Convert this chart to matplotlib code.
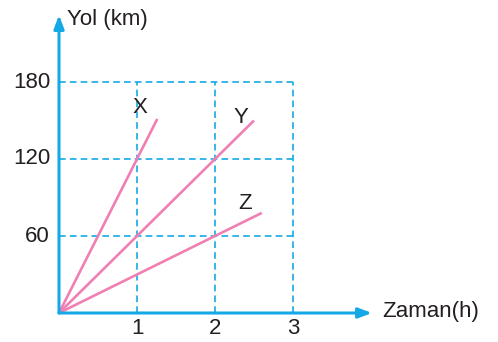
import matplotlib
matplotlib.use("Agg")
import matplotlib.pyplot as plt

# Data
series_names = ["X", "Y", "Z"]
speeds = [120, 60, 30]          # km/h
end_times = [1.26, 2.5, 2.6]    # h
x_ticks = [1, 2, 3]
y_ticks = [60, 120, 180]
x_label = "Zaman(h)"
y_label = "Yol (km)"

blue = "#14a9e6"
pink = "#f07fb3"
txt = "#231f20"

plt.rcParams['font.family'] = ['Liberation Sans', 'DejaVu Sans']
FS = 16

W, H = 498, 342
fig = plt.figure(figsize=(W / 100, H / 100), dpi=100)
ox, oy = 59, 313
tip_x, tip_y = 372, 15
ax = fig.add_axes([ox / W, (H - oy) / H, (tip_x - ox) / W, (oy - tip_y) / H])
xmax = (tip_x - ox) / 78.0
ymax = (oy - tip_y) / 77.0 * 60
ax.set_xlim(0, xmax)
ax.set_ylim(0, ymax)
ax.axis("off")

# Grid (dashed) boxed up to x=3, y=180
for xv in x_ticks:
    ax.plot([xv, xv], [0, max(y_ticks)], color=blue, lw=1.2, ls=(0, (4, 2.5)), zorder=1)
for yv in y_ticks:
    ax.plot([0, max(x_ticks)], [yv, yv], color=blue, lw=1.2, ls=(0, (4, 2.5)), zorder=1)

# Lines
for name, v, t in zip(series_names, speeds, end_times):
    ax.plot([0, t], [0, v * t], color=pink, lw=1.9, solid_capstyle="butt", zorder=3)

# Series labels
label_pos = [(1.04, 160.5), (2.33, 152.7), (2.38, 85.7)]
for name, (lx, ly) in zip(series_names, label_pos):
    ax.text(lx, ly, name, fontsize=FS, ha="center", va="center", color=txt)

# Axes with arrows
ax.annotate("", xy=(xmax, 0), xytext=(0, 0),
            arrowprops=dict(arrowstyle="-|>,head_length=0.8,head_width=0.3", color=blue, lw=2.2,
                            shrinkA=0, shrinkB=0), annotation_clip=False, zorder=4)
ax.annotate("", xy=(0, ymax), xytext=(0, 0),
            arrowprops=dict(arrowstyle="-|>,head_length=0.8,head_width=0.3", color=blue, lw=2.2,
                            shrinkA=0, shrinkB=0), annotation_clip=False, zorder=4)

# Tick labels
for xv in x_ticks:
    ax.text(xv, -11.7, str(xv), fontsize=FS, ha="center", va="center", color=txt)
for yv in y_ticks:
    ax.text(-0.115, yv, str(yv), fontsize=FS, ha="right", va="center", color=txt)

# Axis labels
fig.text(67 / W, 1 - 20 / H, y_label, fontsize=FS, ha="left", va="center", color=txt)
fig.text(382 / W, 1 - 312 / H, x_label, fontsize=FS, ha="left", va="center", color=txt)

fig.savefig("out.png", dpi=100)
